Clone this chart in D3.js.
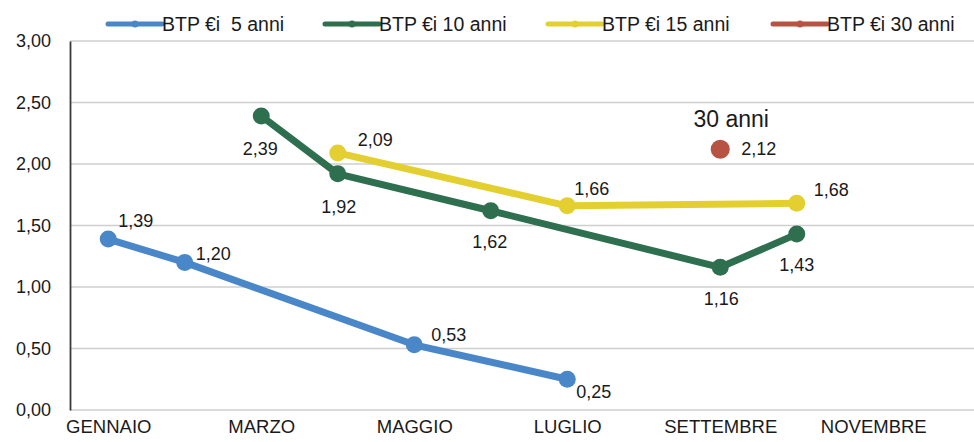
<!DOCTYPE html>
<html>
<head>
<meta charset="utf-8">
<script src="https://d3js.org/d3.v7.min.js"></script>
<style>
  body { margin: 0; background: #fff; }
  text { font-family: "Liberation Sans", Arial, sans-serif; fill: #1a1a1a; }
</style>
</head>
<body>
<div id="chart"></div>
<script>

    // months on the x axis (only every other one gets a label)
    const months = ["GENNAIO", "FEBBRAIO", "MARZO", "APRILE", "MAGGIO", "GIUGNO",
                    "LUGLIO", "AGOSTO", "SETTEMBRE", "OTTOBRE", "NOVEMBRE", "DICEMBRE"];

    const yTicks = [0, 0.5, 1, 1.5, 2, 2.5, 3];

    // values per month, null = no value
    const btp5  = [1.39, 1.20, null, null, 0.53, null, 0.25, null, null, null, null, null];
    const btp10 = [null, null, 2.39, 1.92, null, 1.62, null, null, 1.16, 1.43, null, null];
    const btp15 = [null, null, null, 2.09, null, null, 1.66, null, null, 1.68, null, null];
    const btp30 = [null, null, null, null, null, null, null, null, 2.12, null, null, null];

    const seriesNames = ["BTP €i  5 anni", "BTP €i 10 anni", "BTP €i 15 anni", "BTP €i 30 anni"];

    const width = 974, height = 442;
    const margin = {left: 70, top: 41, bottom: 410};

    const colors = ["#4a87c9", "#2e6f4f", "#e3d030", "#b75343"];
    const legendX = [108, 325, 548, 773];

    // label placement for each point: [dx, dy, anchor]
    const labelPos = [
        [[10, -12, "start"], [11, -2, "start"], null, null, [17, -4, "start"], null, [9, 19, "start"]],
        [null, null, [-1, 39, "middle"], [1, 39, "middle"], null, [-1, 37, "middle"], null, null, [1, 38, "middle"], [0, 37, "middle"]],
        [null, null, null, [20, -7, "start"], null, null, [7, -11, "start"], null, null, [17, -7, "start"]],
        [null, null, null, null, null, null, null, null, [21, 6, "start"]]
    ];

    const data = [btp5, btp10, btp15, btp30];

    const svg = d3.select("#chart")
        .append("svg")
            .attr("width", width)
            .attr("height", height);

    const x = d3.scalePoint().domain(months).range([margin.left, margin.left + 12 * 76.5]).padding(0.5);
    const y = d3.scaleLinear().domain([0, 3]).range([margin.bottom, margin.top]);

    const fmt = v => d3.format(".2f")(v).replace(".", ",");

    // gridlines
    svg.append("g")
        .selectAll("line")
        .data(yTicks)
        .join("line")
            .attr("x1", margin.left)
            .attr("x2", width)
            .attr("y1", d => y(d))
            .attr("y2", d => y(d))
            .attr("stroke", "#cfcfcf")
            .attr("stroke-width", 1.5);

    // y axis
    const yAxis = svg.append("g")
        .attr("transform", "translate(" + margin.left + ",0)")
        .call(d3.axisLeft(y).tickValues(yTicks).tickFormat(fmt).tickSize(0).tickPadding(19));
    yAxis.select(".domain").attr("stroke", "#3a3a3a").attr("stroke-width", 1.8);
    yAxis.selectAll("text")
        .style("font-size", "18px")
        .style("font-family", "Liberation Sans, Arial, sans-serif")
        .attr("fill", "#1a1a1a");

    // x axis labels
    const xAxis = svg.append("g")
        .attr("transform", "translate(0," + margin.bottom + ")")
        .call(d3.axisBottom(x)
            .tickValues(months.filter((m, i) => i % 2 == 0))
            .tickSize(0).tickPadding(10));
    xAxis.select(".domain").remove();
    xAxis.selectAll("text")
        .style("font-size", "18.5px")
        .style("font-family", "Liberation Sans, Arial, sans-serif")
        .attr("fill", "#1a1a1a");

    const line = d3.line()
        .x(d => x(d.m))
        .y(d => y(d.v));

    data.forEach(function(values, s) {
        let pts = values.map((v, i) => ({m: months[i], v: v, i: i})).filter(d => d.v != null);

        svg.append("path")
            .datum(pts)
            .attr("d", line)
            .attr("fill", "none")
            .attr("stroke", colors[s])
            .attr("stroke-width", 7)
            .attr("stroke-linejoin", "round");

        svg.append("g")
            .selectAll("circle")
            .data(pts)
            .join("circle")
                .attr("cx", d => x(d.m))
                .attr("cy", d => y(d.v))
                .attr("r", s == 3 ? 9.5 : 8.5)
                .attr("fill", colors[s]);

        svg.append("g")
            .selectAll("text")
            .data(pts)
            .join("text")
                .attr("x", d => x(d.m) + labelPos[s][d.i][0])
                .attr("y", d => y(d.v) + labelPos[s][d.i][1])
                .attr("text-anchor", d => labelPos[s][d.i][2])
                .style("font-size", "18px")
                .text(d => fmt(d.v));
    });

    // annotation above the single 30 year point
    svg.append("text")
        .attr("x", x("SETTEMBRE") + 11)
        .attr("y", y(btp30[8]) - 22)
        .attr("text-anchor", "middle")
        .style("font-size", "23px")
        .text("30 anni");

    // legend
    const legend = svg.append("g");
    seriesNames.forEach(function(name, s) {
        let g = legend.append("g").attr("transform", "translate(" + legendX[s] + ",24)");
        g.append("line")
            .attr("x1", 0).attr("x2", 54)
            .attr("stroke", colors[s])
            .attr("stroke-width", 5)
            .attr("stroke-linecap", "round");
        g.append("circle")
            .attr("cx", 27).attr("r", 3.5)
            .attr("fill", colors[s]);
        g.append("text")
            .attr("x", 54)
            .attr("y", 7)
            .style("font-size", "19.5px")
            .style("white-space", "pre")
            .text(name);
    });

</script>
</body>
</html>
